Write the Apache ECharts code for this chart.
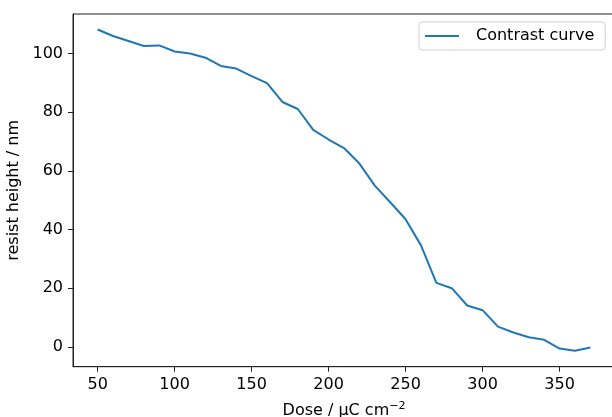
<!DOCTYPE html>
<html>
<head>
<meta charset="utf-8">
<script src="https://cdn.jsdelivr.net/npm/echarts@6/dist/echarts.min.js"></script>
<style>
  html, body { margin: 0; padding: 0; background: #fff; }
  #chart { width: 612px; height: 417px; }
</style>
</head>
<body>
<div id="chart"></div>
<script>
// dose in uC cm^-2 and remaining resist height in nm
var dose = [50, 60, 70, 80, 90, 100, 110, 120, 130, 140, 150, 160, 170, 180, 190, 200, 210,
	220, 230, 240, 250, 260, 270, 280, 290, 300, 310, 320, 330, 340, 350, 360, 370];
var height = [108.2, 106.0, 104.3, 102.6, 102.8, 100.7, 100.0, 98.6, 95.8, 94.9, 92.3, 89.9, 83.5, 81.1, 74.0, 70.7, 67.8,
	62.5, 55.0, 49.3, 43.5, 34.6, 21.8, 20.0, 14.1, 12.5, 6.9, 4.9, 3.3, 2.4, -0.6, -1.3, -0.2];
var xTicks = [50, 100, 150, 200, 250, 300, 350];
var yTicks = [0, 20, 40, 60, 80, 100];

var dom = document.getElementById('chart');
var myChart = echarts.init(dom);

var data = [];
for (var i = 0; i < dose.length; i++) {
	data.push([dose[i], height[i]]);
}

var font = 'DejaVu Sans';

var option = {
	animation: false,
	textStyle: { fontFamily: font },
	grid: {
		left: 73,
		top: 14,
		width: 542,
		height: 352.7,
		containLabel: false,
		outerBoundsMode: 'none',
		show: true,
		borderColor: '#222',
		borderWidth: 1
	},
	legend: {
		data: ['Contrast curve'],
		left: 419,
		top: 22,
		orient: 'vertical',
		padding: [6, 11, 6, 6],
		icon: 'rect',
		itemWidth: 34,
		itemHeight: 2,
		borderColor: '#d0d0d0',
		borderWidth: 1,
		borderRadius: 3,
		backgroundColor: 'rgba(255,255,255,0.8)',
		textStyle: {
			fontFamily: font,
			fontSize: 16,
			color: '#000',
			padding: [0, 0, 0, 12]
		}
	},
	xAxis: {
		type: 'value',
		min: 34,
		max: 386,
		name: 'Dose / µC cm{sup|−2}',
		nameLocation: 'middle',
		nameGap: 34,
		nameTextStyle: {
			fontFamily: font,
			fontSize: 16,
			color: '#000',
			rich: {
				sup: { fontFamily: font, fontSize: 11, color: '#000', padding: [0, 0, 9, 0] }
			}
		},
		axisLine: { onZero: false, lineStyle: { color: '#222', width: 1 } },
		axisTick: { show: true, inside: false, length: 5, customValues: xTicks, lineStyle: { color: '#222' } },
		axisLabel: { customValues: xTicks, margin: 10, fontFamily: font, fontSize: 16, color: '#000' },
		splitLine: { show: false }
	},
	yAxis: {
		type: 'value',
		min: -6.77,
		max: 113.5,
		name: 'resist height / nm',
		nameLocation: 'middle',
		nameGap: 51,
		nameTextStyle: { fontFamily: font, fontSize: 16, color: '#000' },
		axisLine: { show: true, onZero: false, lineStyle: { color: '#222', width: 1 } },
		axisTick: { show: true, inside: false, length: 5, customValues: yTicks, lineStyle: { color: '#222' } },
		axisLabel: { customValues: yTicks, margin: 10, fontFamily: font, fontSize: 16, color: '#000' },
		splitLine: { show: false }
	},
	series: [{
		name: 'Contrast curve',
		type: 'line',
		symbol: 'none',
		data: data,
		lineStyle: { color: '#1f77b4', width: 2 },
		itemStyle: { color: '#1f77b4' }
	}]
};
myChart.setOption(option);
</script>
</body>
</html>
